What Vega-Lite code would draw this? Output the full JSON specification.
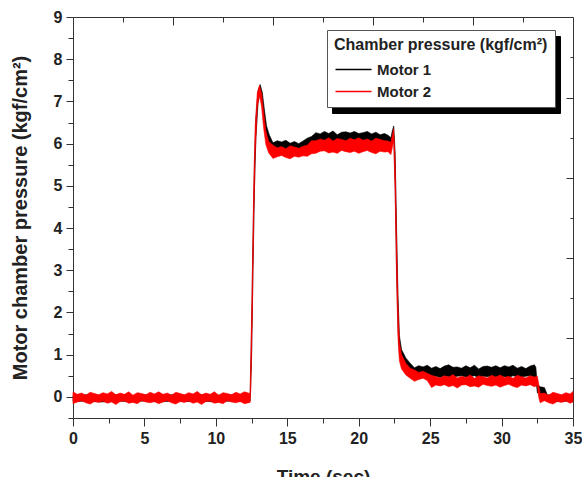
{
  "$schema": "https://vega.github.io/schema/vega-lite/v6.json",
  "width": 500,
  "height": 401,
  "autosize": {"type": "none"},
  "padding": {"left": 73, "top": 17, "right": 9, "bottom": 59},
  "background": "white",
  "config": {
    "view": {"stroke": "#333", "strokeWidth": 1},
    "axis": {
      "labelFont": "Liberation Sans", "labelFontWeight": "bold", "labelFontSize": 16, "labelColor": "#222",
      "titleFont": "Liberation Sans", "titleFontWeight": "bold", "titleFontSize": 19, "titleColor": "#222",
      "tickColor": "#333", "tickWidth": 1, "grid": false, "domain": false, "labelFlush": false, "labelOverlap": false
    },
    "legend": {
      "titleFont": "Liberation Sans", "titleFontWeight": "bold", "titleFontSize": 16,
      "labelFont": "Liberation Sans", "labelFontWeight": "bold", "labelFontSize": 15,
      "titleLimit": 400, "labelLimit": 200
    }
  },
  "data": {"values": [
    {"series": "Motor 1", "t": 0, "lo": -0.11, "hi": 0.04},
    {"series": "Motor 1", "t": 1, "lo": -0.1, "hi": 0.05},
    {"series": "Motor 1", "t": 2, "lo": -0.12, "hi": 0.04},
    {"series": "Motor 1", "t": 3, "lo": -0.1, "hi": 0.05},
    {"series": "Motor 1", "t": 4, "lo": -0.11, "hi": 0.03},
    {"series": "Motor 1", "t": 5, "lo": -0.1, "hi": 0.05},
    {"series": "Motor 1", "t": 6, "lo": -0.12, "hi": 0.04},
    {"series": "Motor 1", "t": 7, "lo": -0.1, "hi": 0.05},
    {"series": "Motor 1", "t": 8, "lo": -0.11, "hi": 0.04},
    {"series": "Motor 1", "t": 9, "lo": -0.1, "hi": 0.05},
    {"series": "Motor 1", "t": 10, "lo": -0.12, "hi": 0.04},
    {"series": "Motor 1", "t": 11, "lo": -0.1, "hi": 0.05},
    {"series": "Motor 1", "t": 12, "lo": -0.11, "hi": 0.04},
    {"series": "Motor 1", "t": 12.4, "lo": -0.1, "hi": 0.06},
    {"series": "Motor 1", "t": 12.5, "lo": 0.9, "hi": 1.6},
    {"series": "Motor 1", "t": 12.6, "lo": 3.0, "hi": 3.8},
    {"series": "Motor 1", "t": 12.7, "lo": 4.9, "hi": 5.5},
    {"series": "Motor 1", "t": 12.8, "lo": 6.1, "hi": 6.6},
    {"series": "Motor 1", "t": 12.95, "lo": 6.95, "hi": 7.25},
    {"series": "Motor 1", "t": 13.1, "lo": 7.22, "hi": 7.4},
    {"series": "Motor 1", "t": 13.25, "lo": 6.95, "hi": 7.22},
    {"series": "Motor 1", "t": 13.4, "lo": 6.45, "hi": 6.8},
    {"series": "Motor 1", "t": 13.55, "lo": 6.12, "hi": 6.42},
    {"series": "Motor 1", "t": 13.75, "lo": 5.98, "hi": 6.2},
    {"series": "Motor 1", "t": 14.0, "lo": 5.82, "hi": 6.02},
    {"series": "Motor 1", "t": 14.3, "lo": 5.85, "hi": 6.07},
    {"series": "Motor 1", "t": 14.6, "lo": 5.8, "hi": 6.04},
    {"series": "Motor 1", "t": 14.9, "lo": 5.84, "hi": 6.08},
    {"series": "Motor 1", "t": 15.2, "lo": 5.79, "hi": 6.01},
    {"series": "Motor 1", "t": 15.5, "lo": 5.83, "hi": 6.05},
    {"series": "Motor 1", "t": 15.8, "lo": 5.8, "hi": 6.0},
    {"series": "Motor 1", "t": 16.1, "lo": 5.84, "hi": 6.06},
    {"series": "Motor 1", "t": 16.4, "lo": 5.86, "hi": 6.13},
    {"series": "Motor 1", "t": 16.7, "lo": 5.96, "hi": 6.17},
    {"series": "Motor 1", "t": 17.0, "lo": 6.0, "hi": 6.26},
    {"series": "Motor 1", "t": 17.3, "lo": 6.05, "hi": 6.23},
    {"series": "Motor 1", "t": 17.6, "lo": 6.03, "hi": 6.29},
    {"series": "Motor 1", "t": 17.9, "lo": 6.06, "hi": 6.24},
    {"series": "Motor 1", "t": 18.2, "lo": 6.02, "hi": 6.3},
    {"series": "Motor 1", "t": 18.5, "lo": 6.05, "hi": 6.21},
    {"series": "Motor 1", "t": 18.8, "lo": 6.04, "hi": 6.27},
    {"series": "Motor 1", "t": 19.1, "lo": 6.02, "hi": 6.28},
    {"series": "Motor 1", "t": 19.4, "lo": 6.06, "hi": 6.25},
    {"series": "Motor 1", "t": 19.7, "lo": 6.03, "hi": 6.29},
    {"series": "Motor 1", "t": 20.0, "lo": 6.05, "hi": 6.24},
    {"series": "Motor 1", "t": 20.3, "lo": 6.02, "hi": 6.26},
    {"series": "Motor 1", "t": 20.6, "lo": 6.04, "hi": 6.29},
    {"series": "Motor 1", "t": 20.9, "lo": 6.01, "hi": 6.23},
    {"series": "Motor 1", "t": 21.2, "lo": 6.05, "hi": 6.27},
    {"series": "Motor 1", "t": 21.5, "lo": 6.02, "hi": 6.21},
    {"series": "Motor 1", "t": 21.8, "lo": 6.0, "hi": 6.24},
    {"series": "Motor 1", "t": 22.05, "lo": 5.96, "hi": 6.2},
    {"series": "Motor 1", "t": 22.25, "lo": 5.92, "hi": 6.14},
    {"series": "Motor 1", "t": 22.35, "lo": 6.02, "hi": 6.3},
    {"series": "Motor 1", "t": 22.45, "lo": 6.2, "hi": 6.42},
    {"series": "Motor 1", "t": 22.55, "lo": 5.0, "hi": 5.8},
    {"series": "Motor 1", "t": 22.65, "lo": 3.0, "hi": 4.0},
    {"series": "Motor 1", "t": 22.75, "lo": 1.6, "hi": 2.4},
    {"series": "Motor 1", "t": 22.85, "lo": 1.0, "hi": 1.45},
    {"series": "Motor 1", "t": 23.0, "lo": 0.8, "hi": 1.12},
    {"series": "Motor 1", "t": 23.3, "lo": 0.66, "hi": 0.92},
    {"series": "Motor 1", "t": 23.6, "lo": 0.56, "hi": 0.8},
    {"series": "Motor 1", "t": 23.9, "lo": 0.52, "hi": 0.69},
    {"series": "Motor 1", "t": 24.2, "lo": 0.5, "hi": 0.74},
    {"series": "Motor 1", "t": 24.5, "lo": 0.48, "hi": 0.71},
    {"series": "Motor 1", "t": 24.8, "lo": 0.5, "hi": 0.75},
    {"series": "Motor 1", "t": 25.1, "lo": 0.47, "hi": 0.68},
    {"series": "Motor 1", "t": 25.4, "lo": 0.49, "hi": 0.72},
    {"series": "Motor 1", "t": 25.7, "lo": 0.46, "hi": 0.67},
    {"series": "Motor 1", "t": 26.0, "lo": 0.5, "hi": 0.73},
    {"series": "Motor 1", "t": 26.3, "lo": 0.48, "hi": 0.76},
    {"series": "Motor 1", "t": 26.6, "lo": 0.47, "hi": 0.7},
    {"series": "Motor 1", "t": 26.9, "lo": 0.49, "hi": 0.71},
    {"series": "Motor 1", "t": 27.2, "lo": 0.5, "hi": 0.68},
    {"series": "Motor 1", "t": 27.5, "lo": 0.47, "hi": 0.74},
    {"series": "Motor 1", "t": 27.8, "lo": 0.48, "hi": 0.69},
    {"series": "Motor 1", "t": 28.1, "lo": 0.5, "hi": 0.75},
    {"series": "Motor 1", "t": 28.4, "lo": 0.46, "hi": 0.66},
    {"series": "Motor 1", "t": 28.7, "lo": 0.49, "hi": 0.72},
    {"series": "Motor 1", "t": 29.0, "lo": 0.48, "hi": 0.73},
    {"series": "Motor 1", "t": 29.3, "lo": 0.5, "hi": 0.7},
    {"series": "Motor 1", "t": 29.6, "lo": 0.47, "hi": 0.74},
    {"series": "Motor 1", "t": 29.9, "lo": 0.49, "hi": 0.69},
    {"series": "Motor 1", "t": 30.2, "lo": 0.48, "hi": 0.74},
    {"series": "Motor 1", "t": 30.5, "lo": 0.46, "hi": 0.71},
    {"series": "Motor 1", "t": 30.8, "lo": 0.5, "hi": 0.75},
    {"series": "Motor 1", "t": 31.1, "lo": 0.48, "hi": 0.68},
    {"series": "Motor 1", "t": 31.4, "lo": 0.47, "hi": 0.72},
    {"series": "Motor 1", "t": 31.7, "lo": 0.49, "hi": 0.67},
    {"series": "Motor 1", "t": 32.0, "lo": 0.5, "hi": 0.73},
    {"series": "Motor 1", "t": 32.3, "lo": 0.47, "hi": 0.76},
    {"series": "Motor 1", "t": 32.4, "lo": 0.45, "hi": 0.7},
    {"series": "Motor 1", "t": 32.5, "lo": 0.1, "hi": 0.3},
    {"series": "Motor 1", "t": 32.7, "lo": 0.06, "hi": 0.24},
    {"series": "Motor 1", "t": 33.0, "lo": 0.04, "hi": 0.22},
    {"series": "Motor 1", "t": 33.2, "lo": -0.1, "hi": 0.05},
    {"series": "Motor 1", "t": 34, "lo": -0.11, "hi": 0.04},
    {"series": "Motor 1", "t": 35, "lo": -0.1, "hi": 0.05},

    {"series": "Motor 2", "t": 0, "lo": -0.16, "hi": 0.12},
    {"series": "Motor 2", "t": 0.3, "lo": -0.12, "hi": 0.06},
    {"series": "Motor 2", "t": 0.6, "lo": -0.09, "hi": 0.09},
    {"series": "Motor 2", "t": 0.9, "lo": -0.14, "hi": 0.04},
    {"series": "Motor 2", "t": 1.2, "lo": -0.17, "hi": 0.11},
    {"series": "Motor 2", "t": 1.5, "lo": -0.11, "hi": 0.08},
    {"series": "Motor 2", "t": 1.8, "lo": -0.13, "hi": 0.05},
    {"series": "Motor 2", "t": 2.1, "lo": -0.1, "hi": 0.1},
    {"series": "Motor 2", "t": 2.4, "lo": -0.15, "hi": 0.07},
    {"series": "Motor 2", "t": 2.7, "lo": -0.12, "hi": 0.13},
    {"series": "Motor 2", "t": 3.0, "lo": -0.18, "hi": 0.05},
    {"series": "Motor 2", "t": 3.3, "lo": -0.11, "hi": 0.09},
    {"series": "Motor 2", "t": 3.6, "lo": -0.1, "hi": 0.06},
    {"series": "Motor 2", "t": 3.9, "lo": -0.15, "hi": 0.12},
    {"series": "Motor 2", "t": 4.2, "lo": -0.13, "hi": 0.04},
    {"series": "Motor 2", "t": 4.5, "lo": -0.16, "hi": 0.1},
    {"series": "Motor 2", "t": 4.8, "lo": -0.09, "hi": 0.08},
    {"series": "Motor 2", "t": 5.1, "lo": -0.12, "hi": 0.05},
    {"series": "Motor 2", "t": 5.4, "lo": -0.14, "hi": 0.11},
    {"series": "Motor 2", "t": 5.7, "lo": -0.11, "hi": 0.07},
    {"series": "Motor 2", "t": 6.0, "lo": -0.16, "hi": 0.12},
    {"series": "Motor 2", "t": 6.3, "lo": -0.12, "hi": 0.06},
    {"series": "Motor 2", "t": 6.6, "lo": -0.09, "hi": 0.09},
    {"series": "Motor 2", "t": 6.9, "lo": -0.14, "hi": 0.04},
    {"series": "Motor 2", "t": 7.2, "lo": -0.17, "hi": 0.11},
    {"series": "Motor 2", "t": 7.5, "lo": -0.11, "hi": 0.08},
    {"series": "Motor 2", "t": 7.8, "lo": -0.13, "hi": 0.05},
    {"series": "Motor 2", "t": 8.1, "lo": -0.1, "hi": 0.1},
    {"series": "Motor 2", "t": 8.4, "lo": -0.15, "hi": 0.07},
    {"series": "Motor 2", "t": 8.7, "lo": -0.12, "hi": 0.13},
    {"series": "Motor 2", "t": 9.0, "lo": -0.18, "hi": 0.05},
    {"series": "Motor 2", "t": 9.3, "lo": -0.11, "hi": 0.09},
    {"series": "Motor 2", "t": 9.6, "lo": -0.1, "hi": 0.06},
    {"series": "Motor 2", "t": 9.9, "lo": -0.15, "hi": 0.12},
    {"series": "Motor 2", "t": 10.2, "lo": -0.13, "hi": 0.04},
    {"series": "Motor 2", "t": 10.5, "lo": -0.16, "hi": 0.1},
    {"series": "Motor 2", "t": 10.8, "lo": -0.09, "hi": 0.08},
    {"series": "Motor 2", "t": 11.1, "lo": -0.12, "hi": 0.05},
    {"series": "Motor 2", "t": 11.4, "lo": -0.14, "hi": 0.11},
    {"series": "Motor 2", "t": 11.7, "lo": -0.11, "hi": 0.07},
    {"series": "Motor 2", "t": 12.0, "lo": -0.16, "hi": 0.12},
    {"series": "Motor 2", "t": 12.4, "lo": -0.13, "hi": 0.08},
    {"series": "Motor 2", "t": 12.45, "lo": 0.2, "hi": 1.0},
    {"series": "Motor 2", "t": 12.55, "lo": 1.9, "hi": 2.8},
    {"series": "Motor 2", "t": 12.65, "lo": 4.1, "hi": 5.0},
    {"series": "Motor 2", "t": 12.75, "lo": 5.7, "hi": 6.4},
    {"series": "Motor 2", "t": 12.9, "lo": 6.85, "hi": 7.2},
    {"series": "Motor 2", "t": 13.05, "lo": 7.15, "hi": 7.38},
    {"series": "Motor 2", "t": 13.2, "lo": 6.88, "hi": 7.2},
    {"series": "Motor 2", "t": 13.35, "lo": 6.35, "hi": 6.75},
    {"series": "Motor 2", "t": 13.5, "lo": 5.98, "hi": 6.3},
    {"series": "Motor 2", "t": 13.7, "lo": 5.78, "hi": 6.05},
    {"series": "Motor 2", "t": 14.0, "lo": 5.65, "hi": 5.96},
    {"series": "Motor 2", "t": 14.3, "lo": 5.69, "hi": 5.9},
    {"series": "Motor 2", "t": 14.6, "lo": 5.72, "hi": 5.93},
    {"series": "Motor 2", "t": 14.9, "lo": 5.67, "hi": 5.88},
    {"series": "Motor 2", "t": 15.2, "lo": 5.64, "hi": 5.95},
    {"series": "Motor 2", "t": 15.5, "lo": 5.7, "hi": 5.92},
    {"series": "Motor 2", "t": 15.8, "lo": 5.68, "hi": 5.89},
    {"series": "Motor 2", "t": 16.1, "lo": 5.71, "hi": 5.94},
    {"series": "Motor 2", "t": 16.4, "lo": 5.7, "hi": 5.96},
    {"series": "Motor 2", "t": 16.7, "lo": 5.76, "hi": 6.07},
    {"series": "Motor 2", "t": 17.0, "lo": 5.77, "hi": 6.07},
    {"series": "Motor 2", "t": 17.3, "lo": 5.82, "hi": 6.11},
    {"series": "Motor 2", "t": 17.6, "lo": 5.83, "hi": 6.08},
    {"series": "Motor 2", "t": 17.9, "lo": 5.78, "hi": 6.14},
    {"series": "Motor 2", "t": 18.2, "lo": 5.8, "hi": 6.06},
    {"series": "Motor 2", "t": 18.5, "lo": 5.77, "hi": 6.12},
    {"series": "Motor 2", "t": 18.8, "lo": 5.84, "hi": 6.1},
    {"series": "Motor 2", "t": 19.1, "lo": 5.81, "hi": 6.07},
    {"series": "Motor 2", "t": 19.4, "lo": 5.79, "hi": 6.13},
    {"series": "Motor 2", "t": 19.7, "lo": 5.82, "hi": 6.09},
    {"series": "Motor 2", "t": 20.0, "lo": 5.77, "hi": 6.14},
    {"series": "Motor 2", "t": 20.3, "lo": 5.81, "hi": 6.08},
    {"series": "Motor 2", "t": 20.6, "lo": 5.84, "hi": 6.11},
    {"series": "Motor 2", "t": 20.9, "lo": 5.79, "hi": 6.06},
    {"series": "Motor 2", "t": 21.2, "lo": 5.76, "hi": 6.13},
    {"series": "Motor 2", "t": 21.5, "lo": 5.82, "hi": 6.1},
    {"series": "Motor 2", "t": 21.8, "lo": 5.8, "hi": 6.07},
    {"series": "Motor 2", "t": 22.05, "lo": 5.81, "hi": 6.06},
    {"series": "Motor 2", "t": 22.25, "lo": 5.74, "hi": 6.03},
    {"series": "Motor 2", "t": 22.35, "lo": 5.9, "hi": 6.2},
    {"series": "Motor 2", "t": 22.45, "lo": 6.08, "hi": 6.35},
    {"series": "Motor 2", "t": 22.55, "lo": 4.8, "hi": 5.6},
    {"series": "Motor 2", "t": 22.65, "lo": 2.8, "hi": 3.8},
    {"series": "Motor 2", "t": 22.75, "lo": 1.4, "hi": 2.2},
    {"series": "Motor 2", "t": 22.85, "lo": 0.85, "hi": 1.3},
    {"series": "Motor 2", "t": 23.0, "lo": 0.66, "hi": 1.0},
    {"series": "Motor 2", "t": 23.3, "lo": 0.52, "hi": 0.8},
    {"series": "Motor 2", "t": 23.6, "lo": 0.44, "hi": 0.68},
    {"series": "Motor 2", "t": 23.9, "lo": 0.37, "hi": 0.64},
    {"series": "Motor 2", "t": 24.2, "lo": 0.41, "hi": 0.58},
    {"series": "Motor 2", "t": 24.5, "lo": 0.44, "hi": 0.61},
    {"series": "Motor 2", "t": 24.8, "lo": 0.39, "hi": 0.56},
    {"series": "Motor 2", "t": 25.1, "lo": 0.22, "hi": 0.51},
    {"series": "Motor 2", "t": 25.4, "lo": 0.28, "hi": 0.48},
    {"series": "Motor 2", "t": 25.7, "lo": 0.26, "hi": 0.45},
    {"series": "Motor 2", "t": 26.0, "lo": 0.29, "hi": 0.5},
    {"series": "Motor 2", "t": 26.3, "lo": 0.24, "hi": 0.47},
    {"series": "Motor 2", "t": 26.6, "lo": 0.27, "hi": 0.53},
    {"series": "Motor 2", "t": 26.9, "lo": 0.21, "hi": 0.45},
    {"series": "Motor 2", "t": 27.2, "lo": 0.28, "hi": 0.49},
    {"series": "Motor 2", "t": 27.5, "lo": 0.29, "hi": 0.46},
    {"series": "Motor 2", "t": 27.8, "lo": 0.24, "hi": 0.52},
    {"series": "Motor 2", "t": 28.1, "lo": 0.26, "hi": 0.44},
    {"series": "Motor 2", "t": 28.4, "lo": 0.23, "hi": 0.5},
    {"series": "Motor 2", "t": 28.7, "lo": 0.3, "hi": 0.48},
    {"series": "Motor 2", "t": 29.0, "lo": 0.27, "hi": 0.45},
    {"series": "Motor 2", "t": 29.3, "lo": 0.25, "hi": 0.51},
    {"series": "Motor 2", "t": 29.6, "lo": 0.28, "hi": 0.47},
    {"series": "Motor 2", "t": 29.9, "lo": 0.23, "hi": 0.52},
    {"series": "Motor 2", "t": 30.2, "lo": 0.27, "hi": 0.46},
    {"series": "Motor 2", "t": 30.5, "lo": 0.3, "hi": 0.49},
    {"series": "Motor 2", "t": 30.8, "lo": 0.25, "hi": 0.44},
    {"series": "Motor 2", "t": 31.1, "lo": 0.22, "hi": 0.51},
    {"series": "Motor 2", "t": 31.4, "lo": 0.28, "hi": 0.48},
    {"series": "Motor 2", "t": 31.7, "lo": 0.26, "hi": 0.45},
    {"series": "Motor 2", "t": 32.0, "lo": 0.29, "hi": 0.5},
    {"series": "Motor 2", "t": 32.3, "lo": 0.24, "hi": 0.47},
    {"series": "Motor 2", "t": 32.5, "lo": 0.27, "hi": 0.49},
    {"series": "Motor 2", "t": 32.6, "lo": 0.0, "hi": 0.3},
    {"series": "Motor 2", "t": 32.7, "lo": -0.14, "hi": 0.08},
    {"series": "Motor 2", "t": 33.0, "lo": -0.09, "hi": 0.09},
    {"series": "Motor 2", "t": 33.3, "lo": -0.14, "hi": 0.04},
    {"series": "Motor 2", "t": 33.6, "lo": -0.17, "hi": 0.11},
    {"series": "Motor 2", "t": 33.9, "lo": -0.11, "hi": 0.08},
    {"series": "Motor 2", "t": 34.2, "lo": -0.13, "hi": 0.05},
    {"series": "Motor 2", "t": 34.5, "lo": -0.1, "hi": 0.1},
    {"series": "Motor 2", "t": 34.8, "lo": -0.15, "hi": 0.07},
    {"series": "Motor 2", "t": 35.0, "lo": -0.12, "hi": 0.13}
  ]},
  "resolve": {"axis": {"x": "independent", "y": "independent"}},
  "layer": [
    {
      "mark": {"type": "area", "opacity": 1, "strokeWidth": 0.6},
      "encoding": {
        "x": {"field": "t", "type": "quantitative",
          "scale": {"domain": [0, 35], "nice": false, "zero": false},
          "axis": {"orient": "bottom", "values": [0, 5, 10, 15, 20, 25, 30, 35], "tickSize": 8, "labelPadding": 4, "title": "Time (sec)", "titlePadding": 21}},
        "y": {"field": "lo", "type": "quantitative",
          "scale": {"domain": [-0.5, 9], "nice": false, "zero": false},
          "axis": {"orient": "left", "values": [0, 1, 2, 3, 4, 5, 6, 7, 8, 9], "tickSize": 7, "labelPadding": 4, "title": "Motor chamber pressure (kgf/cm²)", "titlePadding": 23, "titleFontSize": 20}},
        "y2": {"field": "hi"},
        "color": {"field": "series", "type": "nominal",
          "scale": {"domain": ["Motor 1", "Motor 2"], "range": ["#000000", "#ff0000"]},
          "legend": {
            "orient": "none", "legendX": 254, "legendY": 13, "zindex": 2,
            "title": "Chamber pressure (kgf/cm²)",
            "fillColor": "white", "strokeColor": "#555", "padding": 7, "titlePadding": 9, "rowPadding": 6,
            "symbolType": "M-6,0H6", "symbolSize": 36, "symbolStrokeWidth": 1.5, "symbolOffset": 12, "labelOffset": 16,
            "titleColor": "#222", "labelColor": "#222"
          }},
        "stroke": {"field": "series", "type": "nominal",
          "scale": {"domain": ["Motor 1", "Motor 2"], "range": ["#000000", "#ff0000"]},
          "legend": {
            "orient": "none", "legendX": 254, "legendY": 13, "zindex": 2,
            "title": "Chamber pressure (kgf/cm²)",
            "fillColor": "white", "strokeColor": "#555", "padding": 7, "titlePadding": 9, "rowPadding": 6,
            "symbolType": "M-6,0H6", "symbolSize": 36, "symbolStrokeWidth": 1.5, "symbolOffset": 12, "labelOffset": 16,
            "titleColor": "#222", "labelColor": "#222"
          }}
      }
    },
    {
      "mark": {"type": "point", "opacity": 0},
      "encoding": {
        "x": {"field": "t", "type": "quantitative", "scale": {"domain": [0, 35], "nice": false, "zero": false},
          "axis": {"orient": "bottom", "values": [2.5, 7.5, 12.5, 17.5, 22.5, 27.5, 32.5], "tickSize": 5, "labels": false, "title": null}},
        "y": {"field": "lo", "type": "quantitative", "scale": {"domain": [-0.5, 9], "nice": false, "zero": false},
          "axis": {"orient": "left", "values": [-0.5, 0.5, 1.5, 2.5, 3.5, 4.5, 5.5, 6.5, 7.5, 8.5], "tickSize": 5, "labels": false, "title": null}},
        "shape": {"field": "series", "type": "nominal",
          "legend": {
            "orient": "none", "legendX": 259, "legendY": 19, "zindex": 1,
            "title": "Chamber pressure (kgf/cm²)",
            "fillColor": "black", "strokeColor": "black", "padding": 7, "titlePadding": 9, "rowPadding": 6,
            "symbolSize": 36, "symbolStrokeWidth": 1.5, "symbolOffset": 12, "labelOffset": 16,
            "titleColor": "black", "labelColor": "black", "symbolFillColor": "black", "symbolStrokeColor": "black"
          }}
      }
    },
    {
      "mark": {"type": "point", "opacity": 0},
      "encoding": {
        "x": {"field": "t", "type": "quantitative", "scale": {"domain": [0, 35], "nice": false, "zero": false},
          "axis": {"orient": "top", "values": [7, 14, 21, 28], "tickSize": -8, "labels": false, "title": null}},
        "y": {"field": "lo", "type": "quantitative", "scale": {"domain": [-0.5, 9], "nice": false, "zero": false},
          "axis": {"orient": "right", "values": [7.08, 5.19, 3.28, 1.39], "tickSize": -7, "labels": false, "title": null}}
      }
    },
    {
      "mark": {"type": "point", "opacity": 0},
      "encoding": {
        "x": {"field": "t", "type": "quantitative", "scale": {"domain": [0, 35], "nice": false, "zero": false},
          "axis": {"orient": "top", "values": [3.5, 10.5, 17.5, 24.5, 31.5], "tickSize": -5, "labels": false, "title": null}},
        "y": {"field": "lo", "type": "quantitative", "scale": {"domain": [-0.5, 9], "nice": false, "zero": false},
          "axis": {"orient": "right", "values": [8.05, 6.13, 4.23, 2.34, 0.45], "tickSize": -3, "labels": false, "title": null}}
      }
    }
  ]
}
